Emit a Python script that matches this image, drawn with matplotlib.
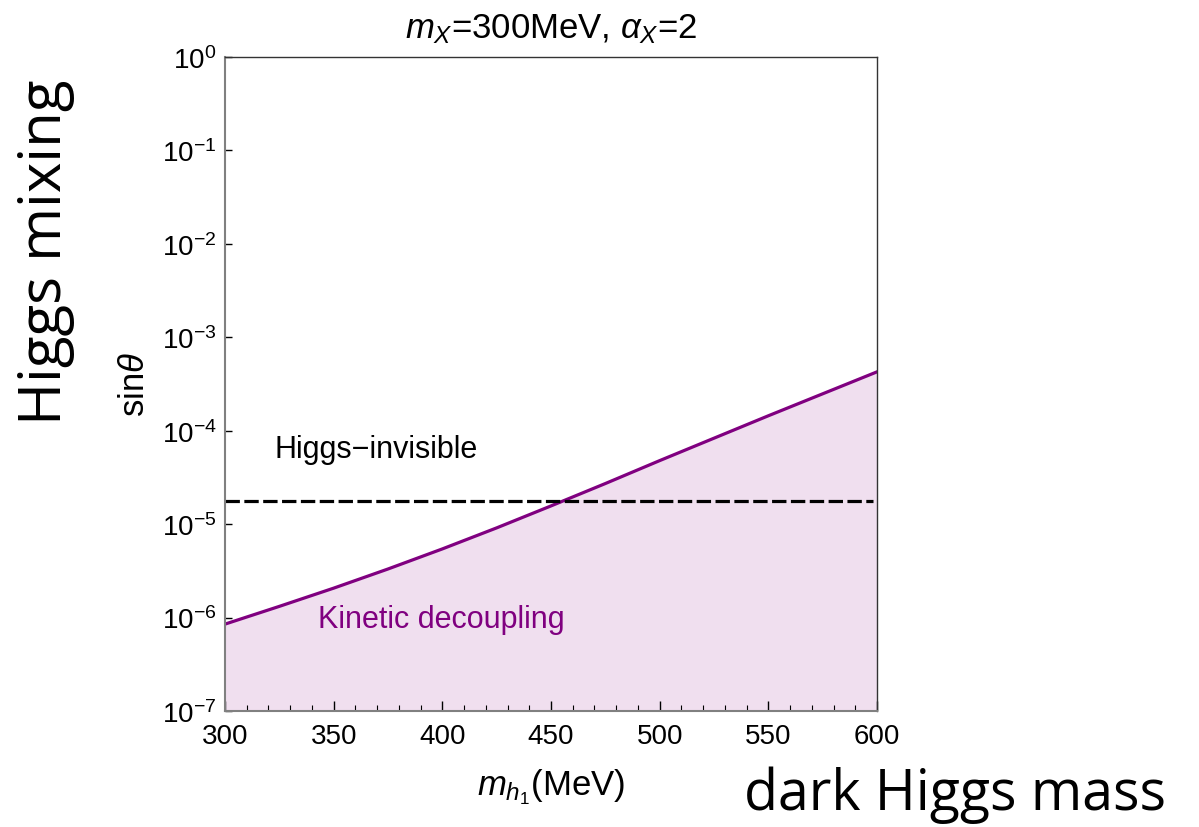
import matplotlib
matplotlib.use('Agg')
import matplotlib.pyplot as plt
from matplotlib.ticker import FixedLocator, MultipleLocator, NullLocator

plt.rcParams['font.family'] = ['Liberation Sans', 'DejaVu Sans']
plt.rcParams['mathtext.fontset'] = 'custom'
plt.rcParams['mathtext.rm'] = 'Liberation Sans'
plt.rcParams['mathtext.it'] = 'Liberation Sans:italic'

# kinetic decoupling boundary
mass = [300, 325, 350, 375, 400, 425, 450, 475, 500, 525, 550, 575, 600]
sin_theta = [8.51e-7, 1.318e-6, 2.065e-6, 3.311e-6, 5.43e-6, 9.12e-6, 1.567e-5,
             2.72e-5, 4.786e-5, 8.318e-5, 1.445e-4, 2.483e-4, 4.266e-4]

# Higgs invisible limit
invis_x = [300, 598]
invis_y = [1.78e-5, 1.78e-5]

ytick_vals = [1e-7, 1e-6, 1e-5, 1e-4, 1e-3, 1e-2, 1e-1, 1e0]
ytick_labels = ['$10^{-7}$', '$10^{-6}$', '$10^{-5}$', '$10^{-4}$',
                '$10^{-3}$', '$10^{-2}$', '$10^{-1}$', '$10^{0}$']
xtick_vals = [300, 350, 400, 450, 500, 550, 600]

purple = '#800080'

fig = plt.figure(figsize=(11.99, 8.28), dpi=100)
ax = fig.add_axes([225/1199, 1 - 712/828, 652/1199, 654/828])

ax.fill_between(mass, 1e-8, sin_theta, color='#F0DFEF', lw=0)
ax.plot(mass, sin_theta, color=purple, lw=2.3)
ax.plot(invis_x, invis_y, color='black', lw=2.3, dashes=(4.5, 1.4))

ax.set_yscale('log')
ax.set_xlim(300, 600)
ax.set_ylim(1e-7, 1)

ax.yaxis.set_major_locator(FixedLocator(ytick_vals))
ax.set_yticklabels(ytick_labels)
ax.yaxis.set_minor_locator(NullLocator())
ax.set_xticks(xtick_vals)
ax.xaxis.set_minor_locator(MultipleLocator(10))

ax.tick_params(which='both', direction='in', labelsize=20, colors='black',
               top=False, right=False)
ax.tick_params(axis='x', which='major', length=7, width=1, pad=9)
ax.tick_params(axis='x', which='minor', length=4, width=0.8)
ax.tick_params(axis='y', which='major', length=5, width=1, pad=6)

for side in ['left', 'bottom']:
    ax.spines[side].set_color('#808080')
    ax.spines[side].set_linewidth(1.5)
for side in ['top', 'right']:
    ax.spines[side].set_color('#333333')
    ax.spines[side].set_linewidth(1.0)

ax.set_title(r'$m_X$=300MeV, $\alpha_X$=2', fontsize=25, pad=14)
ax.set_xlabel(r'$m_{h_1}$(MeV)', fontsize=25, labelpad=12)
ax.set_ylabel(r'sin$\theta$', fontsize=25, labelpad=8)

ax.text(323, 6.3e-5, 'Higgs\u2212invisible', fontsize=22, ha='left', va='center')
ax.text(343, 9.6e-7, 'Kinetic decoupling', fontsize=22, color=purple,
        ha='left', va='center')

fig.text(0.038, 1 - 252/828, 'Higgs mixing', family='Open Sans', fontsize=42,
         rotation=90, ha='center', va='center')
fig.text(955/1199, 1 - 795/828, 'dark Higgs mass', family='Open Sans',
         fontsize=40, ha='center', va='center')

fig.savefig('out.png', dpi=100)
